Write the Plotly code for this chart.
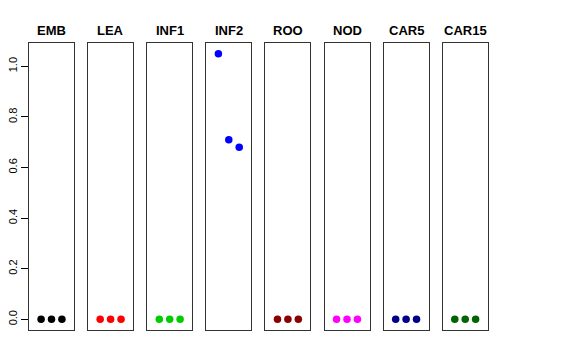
import plotly.graph_objects as go

panels = ["EMB", "LEA", "INF1", "INF2", "ROO", "NOD", "CAR5", "CAR15"]
colors = ["#000000", "#FF0000", "#00CD00", "#0000FF", "#8B0000", "#FF00FF", "#00008B", "#006400"]
x_pos = [1, 2, 3]
values = {
    "EMB": [0, 0, 0],
    "LEA": [0, 0, 0],
    "INF1": [0, 0, 0],
    "INF2": [1.05, 0.71, 0.68],
    "ROO": [0, 0, 0],
    "NOD": [0, 0, 0],
    "CAR5": [0, 0, 0],
    "CAR15": [0, 0, 0],
}
y_ticks = [0.0, 0.2, 0.4, 0.6, 0.8, 1.0]

W, H = 576, 360
# page body has an 8px offset; positions below are figure pixels
left0, step, pw = 21, 59.1, 45
top, bottom = 35, 322
title_y = 22

fig = go.Figure()
layout = dict(width=W, height=H, margin=dict(l=0, r=0, t=0, b=0, autoexpand=False),
              plot_bgcolor="white", paper_bgcolor="white", showlegend=False)
for i, name in enumerate(panels):
    sfx = "" if i == 0 else str(i + 1)
    fig.add_trace(go.Scatter(x=x_pos, y=values[name], mode="markers",
                             marker=dict(color=colors[i], size=7.5),
                             xaxis="x" + sfx, yaxis="y" + sfx, cliponaxis=False))
    x0 = (left0 + i * step) / W
    x1 = (left0 + i * step + pw) / W
    layout["xaxis" + sfx] = dict(domain=[x0, x1], range=[-0.16, 4.16], showticklabels=False,
                                 ticks="", showgrid=False, zeroline=False, showline=True,
                                 linecolor="#333", linewidth=1, mirror=True, fixedrange=True,
                                 anchor="y" + sfx, automargin=False)
    ya = dict(domain=[(H - bottom) / H, (H - top) / H], range=[-0.042, 1.092],
              showgrid=False, zeroline=False, showline=True, linecolor="#333",
              linewidth=1, mirror=True, anchor="x" + sfx, automargin=False)
    if i == 0:
        ya.update(tickvals=y_ticks, ticktext=[f"{v:.1f}" for v in y_ticks], ticks="outside",
                  ticklen=7, tickcolor="#000", tickangle=-90,
                  tickfont=dict(family="Liberation Sans, Arial", size=11, color="#000"))
    else:
        ya.update(showticklabels=False, ticks="")
    layout["yaxis" + sfx] = ya
    fig.add_annotation(x=(x0 + x1) / 2, y=(H - title_y) / H, xref="paper", yref="paper",
                       xanchor="center", yanchor="middle",
                       text="<b>" + name + "</b>", showarrow=False,
                       font=dict(family="Liberation Sans, Arial", size=13, color="#000"))
fig.update_layout(**layout)
fig.write_html("out.html")
